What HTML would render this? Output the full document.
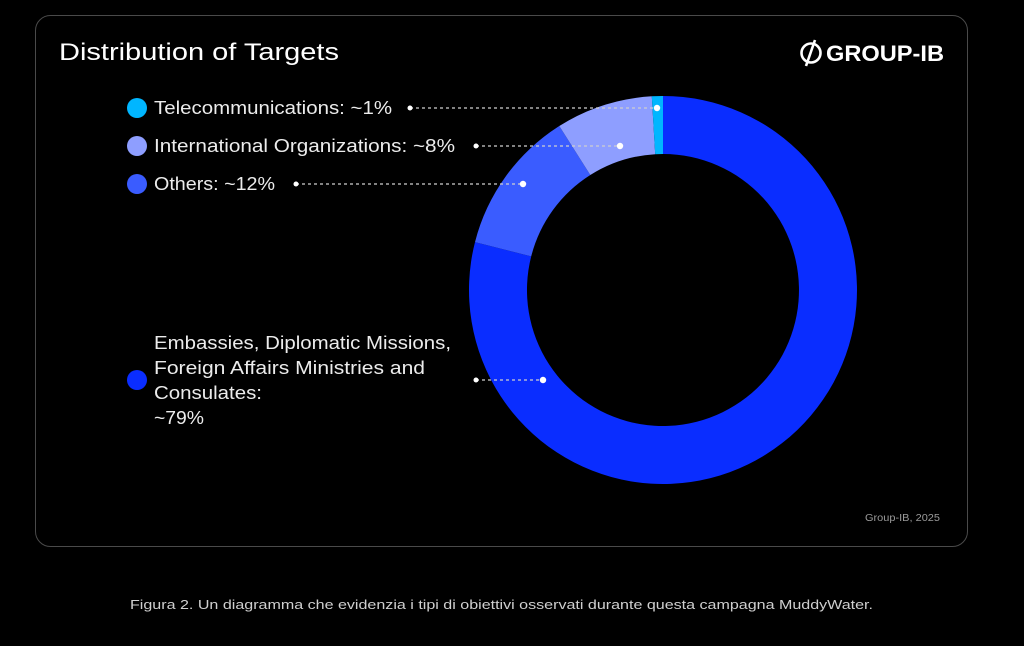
<!DOCTYPE html>
<html><head><meta charset="utf-8"><style>
html,body{margin:0;padding:0;background:#000;}
body{width:1024px;height:641px;overflow:hidden;}
text{font-family:"Liberation Sans",sans-serif;}
</style></head><body>
<svg width="1024" height="641" viewBox="0 0 1024 641" xmlns="http://www.w3.org/2000/svg">
<rect x="0" y="0" width="1024" height="641" fill="#000"/>
<rect x="35.5" y="15.5" width="932" height="531" rx="15" fill="#000" stroke="#4a4a4a" stroke-width="1"/>
<text x="59" y="60" font-size="24" fill="#fff" textLength="280" lengthAdjust="spacingAndGlyphs">Distribution of Targets</text>
<!-- logo -->
<g fill="none" stroke="#fff" stroke-width="2.6">
<circle cx="811" cy="53" r="9.5"/>
<line x1="815" y1="40" x2="806" y2="66"/>
</g>
<text x="826" y="61" font-size="22" font-weight="bold" fill="#fff" textLength="118" lengthAdjust="spacingAndGlyphs">GROUP-IB</text>
<!-- donut -->
<path d="M663,96 A194,194 0 1 1 475,242.1 L531.2,256.4 A136,136 0 1 0 663,154 Z" fill="#0a2dff"/>
<path d="M475,242.1 A194,194 0 0 1 559.3,126 L590.3,175 A136,136 0 0 0 531.2,256.4 Z" fill="#3a5cff"/>
<path d="M559.3,126 A194,194 0 0 1 651.8,96.3 L655.2,154.2 A136,136 0 0 0 590.3,175 Z" fill="#8e9eff"/>
<path d="M651.8,96.3 A194,194 0 0 1 663,96 L663,154 A136,136 0 0 0 655.2,154.2 Z" fill="#00b6ff"/>
<!-- legend -->
<g font-size="18" fill="#ececec">
<circle cx="137" cy="108" r="10" fill="#00b6ff"/>
<text x="154" y="114" textLength="238" lengthAdjust="spacingAndGlyphs">Telecommunications: ~1%</text>
<circle cx="137" cy="146" r="10" fill="#8e9eff"/>
<text x="154" y="152" textLength="301" lengthAdjust="spacingAndGlyphs">International Organizations: ~8%</text>
<circle cx="137" cy="184" r="10" fill="#3a5cff"/>
<text x="154" y="190" textLength="121" lengthAdjust="spacingAndGlyphs">Others: ~12%</text>
<circle cx="137" cy="380" r="10" fill="#0a2dff"/>
<text x="154" y="349" textLength="297" lengthAdjust="spacingAndGlyphs">Embassies, Diplomatic Missions,</text>
<text x="154" y="374" textLength="271" lengthAdjust="spacingAndGlyphs">Foreign Affairs Ministries and</text>
<text x="154" y="399" textLength="108" lengthAdjust="spacingAndGlyphs">Consulates:</text>
<text x="154" y="424" textLength="50" lengthAdjust="spacingAndGlyphs">~79%</text>
</g>
<!-- leader lines -->
<g stroke="#cfcfcf" stroke-width="1.3" stroke-dasharray="3,3">
<line x1="410" y1="108" x2="657" y2="108"/>
<line x1="476" y1="146" x2="620" y2="146"/>
<line x1="296" y1="184" x2="523" y2="184"/>
<line x1="476" y1="380" x2="543" y2="380"/>
</g>
<g fill="#fff">
<circle cx="410" cy="108" r="2.5"/><circle cx="657" cy="108" r="3.2"/>
<circle cx="476" cy="146" r="2.5"/><circle cx="620" cy="146" r="3.2"/>
<circle cx="296" cy="184" r="2.5"/><circle cx="523" cy="184" r="3.2"/>
<circle cx="476" cy="380" r="2.5"/><circle cx="543" cy="380" r="3.2"/>
</g>
<text x="865" y="521" font-size="10" fill="#9a9a9a" textLength="75" lengthAdjust="spacingAndGlyphs">Group-IB, 2025</text>
<text x="130" y="609" font-size="13" fill="#cfcfcf" textLength="743" lengthAdjust="spacingAndGlyphs">Figura 2. Un diagramma che evidenzia i tipi di obiettivi osservati durante questa campagna MuddyWater.</text>
</svg>
</body></html>
